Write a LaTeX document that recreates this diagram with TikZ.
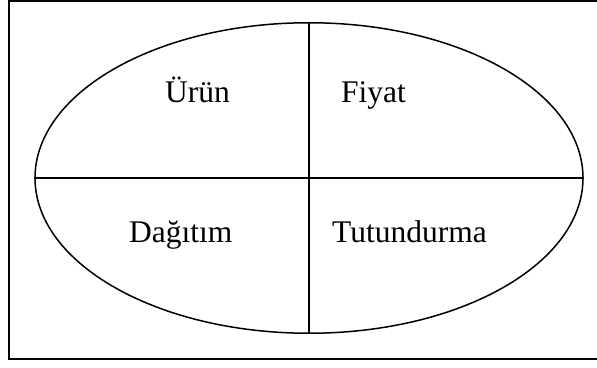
\documentclass[tikz,border=0pt]{standalone}
\usepackage{fontspec}
\setmainfont{Liberation Serif}
\usetikzlibrary{shapes.geometric}
\begin{document}
\begin{tikzpicture}[x=1pt,y=1pt,
  lbl/.style={anchor=base west,inner sep=0pt,font=\fontsize{31.5}{38}\selectfont},
  edge/.style={line width=1.5pt}]
\useasboundingbox (0,0) rectangle (597,367);
\clip (0,0) rectangle (597,367);
\fill[white] (0,0) rectangle (597,367);
\draw[line width=2pt] (9,8) rectangle (620,366);
\node[draw,ellipse,line width=1.5pt,minimum width=548pt,minimum height=310.5pt,inner sep=0pt] (e) at (309,189) {};
\draw[edge] (e.north) -- (e.south);
\draw[edge] (e.west) -- (e.east);
\node[lbl] (u) at (165,264) {Ürün};
\node[lbl] (f) at (341,264) {Fiyat};
\node[lbl] (d) at (129,124) {Dağıtım};
\node[lbl] (t) at (332,124) {Tutundurma};
\end{tikzpicture}
\end{document}
